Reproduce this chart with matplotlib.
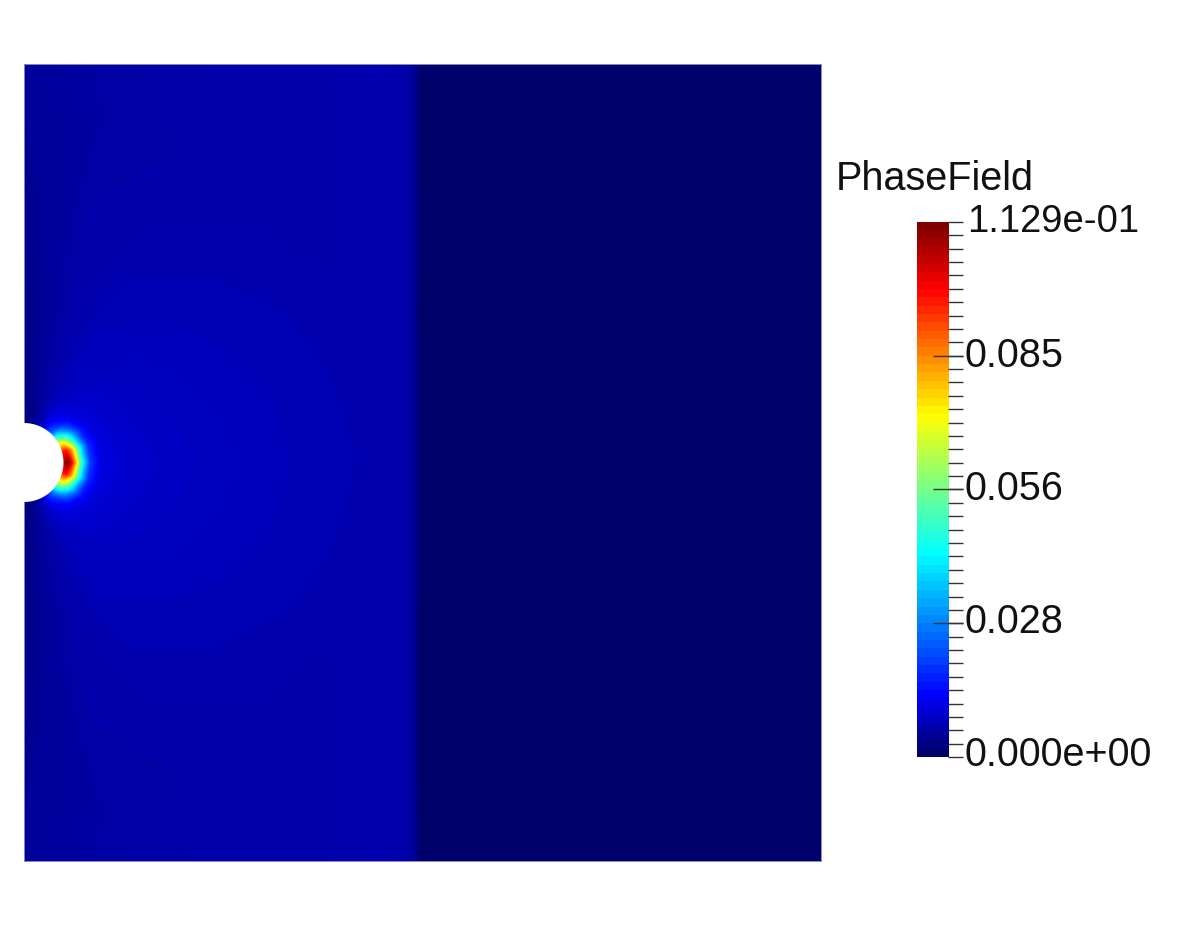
import numpy as np
import matplotlib
matplotlib.use('Agg')
import matplotlib.pyplot as plt
from matplotlib.colors import LinearSegmentedColormap, Normalize
from matplotlib.cm import ScalarMappable
from matplotlib.patches import Circle

W, H = 1188, 930
vmin, vmax = 0.0, 0.1129

# colour table
cmap_pos = [0.0, 0.11, 0.38, 0.64, 0.88, 1.0]
cmap_col = ['#00006a', '#0000ff', '#00ffff', '#ffff00', '#ff0000', '#800000']

# far field: value along x (plate width = 1)
far_x = [0.0, 0.10, 0.22, 0.35, 0.45, 0.478, 0.489, 0.494, 0.497, 0.50, 1.0]
far_v = [0.0040, 0.0050, 0.0053, 0.0056, 0.0058, 0.0056, 0.0042, 0.0022, 0.0005, 0.0, 0.0]

# near field around the notch: radius in plate widths, angle from +x in degrees
near_r = [0.049, 0.0552, 0.0602, 0.0652, 0.0703, 0.0753, 0.0828, 0.0954, 0.1129, 0.1443, 0.2008, 0.3137, 0.4517]
near_deg = [0, 15, 30, 45, 60, 75, 90]
near_v = [
    [0.1050, 0.0960, 0.0640, 0.0280, 0.0090, 0.0030, 0.0010],
    [0.1129, 0.0970, 0.0610, 0.0250, 0.0090, 0.0032, 0.0012],
    [0.0980, 0.0850, 0.0530, 0.0210, 0.0090, 0.0034, 0.0013],
    [0.0780, 0.0680, 0.0430, 0.0170, 0.0088, 0.0036, 0.0014],
    [0.0540, 0.0480, 0.0320, 0.0140, 0.0086, 0.0038, 0.0015],
    [0.0380, 0.0340, 0.0230, 0.0120, 0.0084, 0.0040, 0.0016],
    [0.0190, 0.0175, 0.0140, 0.0100, 0.0080, 0.0042, 0.0017],
    [0.0105, 0.0102, 0.0095, 0.0088, 0.0072, 0.0045, 0.0019],
    [0.0092, 0.0090, 0.0086, 0.0082, 0.0072, 0.0048, 0.0021],
    [0.0082, 0.0080, 0.0078, 0.0075, 0.0070, 0.0050, 0.0023],
    [0.0076, 0.0074, 0.0072, 0.0070, 0.0066, 0.0052, 0.0026],
    [0.0068, 0.0067, 0.0065, 0.0062, 0.0058, 0.0054, 0.0032],
    [0.0059, 0.0058, 0.0057, 0.0056, 0.0054, 0.0050, 0.0040],
]

title = 'PhaseField'
major_vals = [0.0282, 0.0565, 0.0847]
n_minor = 40
tick_labels = ['1.129e-01', '0.085', '0.056', '0.028', '0.000e+00']
label_x_px = [967, 965, 965, 965, 965]
label_y_px = [222, 356, 489, 622, 755]
label_size = [27.5, 28.5, 28.5, 28.5, 28.5]

plt.rcParams['font.family'] = ['Liberation Sans', 'DejaVu Sans']


def px_axes(left, top, right, bottom):
    return [left / W, 1 - bottom / H, (right - left) / W, (bottom - top) / H]


field_cmap = LinearSegmentedColormap.from_list('field', list(zip(cmap_pos, cmap_col)), N=256)
bar_cmap = LinearSegmentedColormap.from_list('bar', list(zip(cmap_pos, cmap_col)), N=64)
norm = Normalize(vmin, vmax)

fig = plt.figure(figsize=(W / 100, H / 100), dpi=100, facecolor='white')

ax = fig.add_axes(px_axes(24, 64, 821, 861))
ax.set_xlim(0, 1)
ax.set_ylim(0, 1)
ax.set_xticks([])
ax.set_yticks([])
for s in ax.spines.values():
    s.set_color('#8888c4')
    s.set_linewidth(0.7)

# far field
far_v2 = np.array([far_v, far_v])
ax.pcolormesh(far_x, [0, 1], far_v2, cmap=field_cmap, norm=norm, shading='gouraud')

# near field, mirrored about the notch axis
deg = np.array(near_deg)
deg_all = np.concatenate([-deg[:0:-1], deg])
v = np.array(near_v)
v_all = np.hstack([v[:, :0:-1], v])
rr, tt = np.meshgrid(near_r, np.radians(deg_all), indexing='ij')
X = rr * np.cos(tt)
Y = 0.5 + rr * np.sin(tt)
# finer levels at the low end so the dark blues do not band
levels = np.concatenate([np.linspace(vmin, 0.015, 150), np.linspace(0.0152, vmax, 300)])
ax.contourf(X, Y, v_all, levels=levels, cmap=field_cmap, norm=norm,
            antialiased=False, extend='both')

# the notch itself
ax.add_patch(Circle((0, 0.5), 39.5 / 797, facecolor='white', edgecolor='none', zorder=5))

# scalar bar
cax = fig.add_axes(px_axes(917, 222, 949, 757))
cb = fig.colorbar(ScalarMappable(norm=norm, cmap=bar_cmap), cax=cax)
cb.outline.set_visible(False)
cb.set_ticks([])
cax.set_xlim(0, 1)
cax.set_ylim(vmin, vmax)

minor_vals = np.linspace(vmin, vmax, n_minor + 1)
cax.hlines(minor_vals, 0.97, 1.45, color='#333333', linewidth=1, clip_on=False, zorder=6)
cax.hlines(major_vals, 0.5, 1.45, color='#333333', linewidth=1, clip_on=False, zorder=6)

fig.text(836 / W, 1 - 179 / H, title, fontsize=28.5, color='#111111', ha='left', va='center')
for lab, lx, ly, fs in zip(tick_labels, label_x_px, label_y_px, label_size):
    fig.text(lx / W, 1 - ly / H, lab, fontsize=fs, color='#111111', ha='left', va='center')

fig.savefig('out.png', dpi=100)
